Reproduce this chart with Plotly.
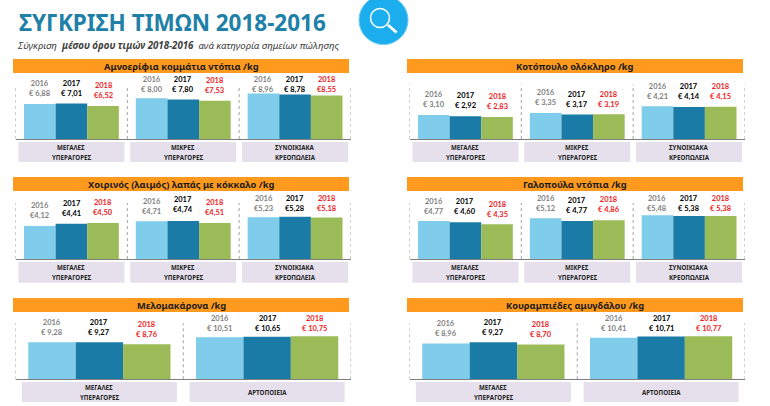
import plotly.graph_objects as go

WIDTH, HEIGHT = 770, 406
FONT = "Lato"
FONT_GR = "Noto Sans"

# ---------- data ----------
TITLE = "ΣΥΓΚΡΙΣΗ ΤΙΜΩΝ 2018-2016"
SUBTITLE = "Σύγκριση  <b>μέσου όρου τιμών 2018-2016</b>  ανά κατηγορία σημείων πώλησης"
YEARS = ["2016", "2017", "2018"]
CATS_3 = [["ΜΕΓΑΛΕΣ", "ΥΠΕΡΑΓΟΡΕΣ"], ["ΜΙΚΡΕΣ", "ΥΠΕΡΑΓΟΡΕΣ"], ["ΣΥΝΟΙΚΙΑΚΑ", "ΚΡΕΟΠΩΛΕΙΑ"]]
CATS_2 = [["ΜΕΓΑΛΕΣ", "ΥΠΕΡΑΓΟΡΕΣ"], ["ΑΡΤΟΠΟΙΕΙΑ"]]

amnos = [[6.88, 8.00, 8.96], [7.01, 7.80, 8.78], [6.52, 7.53, 8.55]]
amnos_txt = [["€ 6,88", "€ 8,00", "€ 8,96"], ["€ 7,01", "€ 7,80", "€ 8,78"], ["€6,52", "€7,53", "€8,55"]]
kotopoulo = [[3.10, 3.35, 4.21], [2.92, 3.17, 4.14], [2.83, 3.19, 4.15]]
kotopoulo_txt = [["€ 3,10", "€ 3,35", "€ 4,21"], ["€ 2,92", "€ 3,17", "€ 4,14"], ["€ 2,83", "€ 3,19", "€ 4,15"]]
xoirinos = [[4.12, 4.71, 5.23], [4.41, 4.74, 5.28], [4.50, 4.51, 5.18]]
xoirinos_txt = [["€4,12", "€4,71", "€5,23"], ["€4,41", "€4,74", "€5,28"], ["€4,50", "€4,51", "€5,18"]]
galopoula = [[4.77, 5.12, 5.48], [4.60, 4.77, 5.38], [4.35, 4.86, 5.38]]
galopoula_txt = [["€4,77", "€5,12", "€5,48"], ["€ 4,60", "€ 4,77", "€ 5,38"], ["€ 4,35", "€ 4,86", "€ 5,38"]]
melomakarona = [[9.28, 10.51], [9.27, 10.65], [8.76, 10.75]]
melomakarona_txt = [["€ 9,28", "€ 10,51"], ["€ 9,27", "€ 10,65"], ["€ 8,76", "€ 10,75"]]
kourampiedes = [[8.96, 10.41], [9.27, 10.71], [8.70, 10.77]]
kourampiedes_txt = [["€ 8,96", "€ 10,41"], ["€ 9,27", "€ 10,71"], ["€ 8,70", "€ 10,77"]]

# ---------- layout (pixels) ----------
COLORS = ["#7FCDEB", "#1A7CA6", "#9BBB59"]
LABEL_COLORS = ["#7F7F7F", "#000000", "#EE1C25"]

# lift: distance from bar top to the value line of each label, per year then per group
PANELS = [
    dict(title="Αμνοερίφια κομμάτια ντόπια /kg", vals=amnos, txt=amnos_txt, cats=CATS_3, dx=0, head=59, top=88, base=139, scale=5.08,
         strip=(142, 162), lift=[[10.3, 9, 4.2], [9.7, 10, 5], [10.2, 10.4, 6.3]]),
    dict(title="Κοτόπουλο ολόκληρο /kg", vals=kotopoulo, txt=kotopoulo_txt, cats=CATS_3, dx=394, head=59, top=84.3, base=139, scale=7.75,
         strip=(142, 162), lift=[[10.7, 10.3, 9.7], [10.4, 10.1, 10.2], [10.4, 10, 10.1]]),
    dict(title="Χοιρινός (λαιμός) λαπάς με κόκκαλο /kg", vals=xoirinos, txt=xoirinos_txt, cats=CATS_3, dx=0, head=177, top=203, base=259, scale=8.0,
         strip=(261.7, 282.7), lift=[[10.3, 10, 8.5], [10.4, 11.1, 8.1], [10.7, 10.6, 8.9]]),
    dict(title="Γαλοπούλα ντόπια /kg", vals=galopoula, txt=galopoula_txt, cats=CATS_3, dx=394, head=177, top=203, base=259, scale=7.97,
         strip=(261.7, 282.7), lift=[[9.7, 9.5, 6.6], [11, 10.7, 7.4], [9.6, 11, 7.4]]),
    dict(title="Μελομακάρονα /kg", vals=melomakarona, txt=melomakarona_txt, cats=CATS_2, dx=0, head=298, top=323.3, base=379.3, scale=4.0,
         strip=(382, 402), lift=[[9.9, 9], [9.9, 8.4], [10, 8]]),
    dict(title="Κουραμπιέδες αμυγδάλου /kg", vals=kourampiedes, txt=kourampiedes_txt, cats=CATS_2, dx=394, head=298, top=323.3, base=379.3, scale=4.0,
         strip=(382, 402), lift=[[10.2, 9.4], [9.9, 8.2], [10.2, 7.9]]),
]

X0, X1 = 15.5, 351.0


def fx(px):
    return px / WIDTH


def fy(px):
    return 1 - px / HEIGHT


fig = go.Figure()
shapes, annotations = [], []
layout_axes = {}

annotations.append(dict(xref="paper", yref="paper", x=fx(17), y=fy(22), xanchor="left", yanchor="middle", showarrow=False,
                        text=f"<b>{TITLE}</b>", font=dict(family=FONT_GR, size=22.5, color="#2080A8")))
annotations.append(dict(xref="paper", yref="paper", x=fx(15), y=fy(46), xanchor="left", yanchor="middle", showarrow=False,
                        text=f"<i>{SUBTITLE}</i>", font=dict(family=FONT_GR, size=9.7, color="#404040")))

# magnifier icon
shapes.append(dict(type="circle", xref="paper", yref="paper", x0=fx(359), x1=fx(408), y0=fy(44.5), y1=fy(-4.5),
                   fillcolor="#1BADEE", line=dict(color="#6CCBF4", width=1)))
shapes.append(dict(type="circle", xref="paper", yref="paper", x0=fx(370.5), x1=fx(389.5), y0=fy(27.5), y1=fy(8.5),
                   fillcolor="#1BADEE", line=dict(color="#FFFFFF", width=1.5)))
shapes.append(dict(type="line", xref="paper", yref="paper", x0=fx(388), x1=fx(396.5), y0=fy(25), y1=fy(32.5),
                   line=dict(color="#FFFFFF", width=3)))

for idx, p in enumerate(PANELS, start=1):
    n = len(p["cats"])
    dx = p["dx"]
    key = "" if idx == 1 else str(idx)
    xname, yname = f"x{key}", f"y{key}"
    group_px = (X1 - X0) / n
    bar_px = group_px * 0.848 / 3
    for j, year in enumerate(YEARS):
        fig.add_trace(go.Bar(x=list(range(n)), y=p["vals"][j], name=year, marker=dict(color=COLORS[j], line=dict(width=0)),
                             xaxis=xname, yaxis=yname, showlegend=False, offsetgroup=str(j)))
        for g in range(n):
            annotations.append(dict(xref=xname, yref=yname, x=g, y=p["vals"][j][g], xshift=(j - 1) * bar_px,
                                    yshift=p["lift"][j][g] + 5, xanchor="center", yanchor="middle", showarrow=False,
                                    text=f"<b>{year}<br>{p['txt'][j][g]}</b>",
                                    font=dict(family=FONT, size=7.5, color=LABEL_COLORS[j])))
    layout_axes[f"xaxis{key}"] = dict(domain=[fx(X0 + dx), fx(X1 + dx)], range=[-0.5, n - 0.5], anchor=yname, showticklabels=False,
                                      ticks="", showgrid=False, zeroline=False, showline=True, linecolor="#7F7F7F", linewidth=1, fixedrange=True)
    layout_axes[f"yaxis{key}"] = dict(domain=[fy(p["base"]), fy(p["top"])], range=[0, (p["base"] - p["top"]) / p["scale"]], anchor=xname,
                                      showticklabels=False, ticks="", showgrid=False, zeroline=False, showline=False, fixedrange=True)
    # separators
    for s in range(n + 1):
        shapes.append(dict(type="line", xref=xname, yref=f"{yname} domain", x0=s - 0.5, x1=s - 0.5, y0=0, y1=1,
                           line=dict(color="#8C8C8C", width=0.8, dash="dot")))
    # header band
    shapes.append(dict(type="rect", xref="paper", yref="paper", x0=fx(13 + dx), x1=fx(349 + dx), y0=fy(p["head"] + 14), y1=fy(p["head"]),
                       fillcolor="#FF9A1E", line=dict(width=0), layer="below"))
    annotations.append(dict(xref="paper", yref="paper", x=fx(181 + dx), y=fy(p["head"] + 7), xanchor="center", yanchor="middle", showarrow=False,
                            text=f"<b>{p['title']}</b>", font=dict(family=FONT_GR, size=9.3, color="#1A1A1A")))
    # category strips
    strip_w = 106 if n == 3 else 155
    for g, cat in enumerate(p["cats"]):
        cx = X0 + group_px * (g + 0.5) + dx
        shapes.append(dict(type="rect", xref="paper", yref="paper", x0=fx(cx - strip_w / 2), x1=fx(cx + strip_w / 2),
                           y0=fy(p["strip"][1]), y1=fy(p["strip"][0]), fillcolor="#E5E0EC", line=dict(width=0), layer="below"))
        for k, line in enumerate(cat):
            annotations.append(dict(xref=xname, yref="paper", x=g, y=fy(sum(p["strip"]) / 2),
                                    yshift=(len(cat) - 1) * 5 - k * 10, xanchor="center", yanchor="middle", showarrow=False,
                                    text=f"<b>{line}</b>", font=dict(family=FONT_GR, size=6.2, color="#262626")))

fig.update_layout(width=WIDTH, height=HEIGHT, margin=dict(l=0, r=0, t=0, b=0), paper_bgcolor="#FFFFFF", plot_bgcolor="rgba(0,0,0,0)",
                  barmode="group", bargap=0.152, bargroupgap=0, showlegend=False, shapes=shapes, annotations=annotations, **layout_axes)

fig.write_html("out.html", config={"displayModeBar": False},
               post_script="document.body.style.margin='0';document.body.style.overflow='hidden';")
